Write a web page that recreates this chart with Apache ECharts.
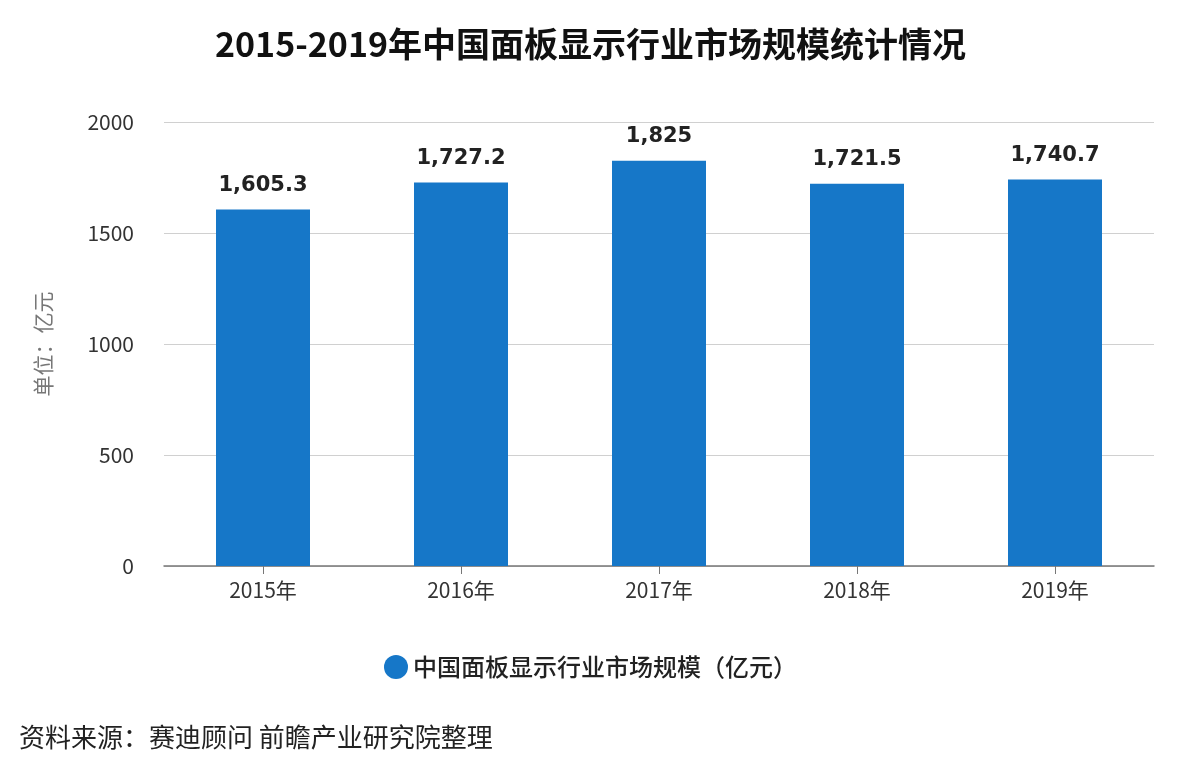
<!DOCTYPE html>
<html><head><meta charset="utf-8">
<script src="https://cdn.jsdelivr.net/npm/echarts@6/dist/echarts.min.js"></script>
<style>html,body{margin:0;padding:0;background:#fff;}#c{width:1181px;height:779px;}</style>
</head><body><div id="c"></div>
<script>
const categories = ['2015年','2016年','2017年','2018年','2019年'];
const marketSize = [1605.3, 1727.2, 1825, 1721.5, 1740.7];
const seriesName = '中国面板显示行业市场规模（亿元）';
const titleText = '2015-2019年中国面板显示行业市场规模统计情况';
const sourceText = '资料来源：赛迪顾问 前瞻产业研究院整理';
const yTicks = [0, 500, 1000, 1500, 2000];

const font = '"Noto Sans CJK SC", "Noto Sans", sans-serif';
const chart = echarts.init(document.getElementById('c'));
chart.setOption({
  backgroundColor: '#fff',
  textStyle: {fontFamily: font},
  title: [{
    text: titleText, left: 'center', top: 22,
    textStyle: {fontSize: 34, fontWeight: 'bold', color: '#111', fontFamily: font}
  }, {
    text: sourceText, left: 14, top: 719,
    textStyle: {fontSize: 26, fontWeight: 'normal', color: '#222', fontFamily: font}
  }],
  legend: {
    data: [seriesName], left: 'center', top: 650, itemWidth: 24, itemHeight: 24, icon: 'circle', itemGap: 10,
    textStyle: {fontSize: 24, color: '#222', fontFamily: font, fontWeight: 500}
  },
  grid: {left: 164, right: 27, top: 122, bottom: 213, containLabel: false},
  xAxis: {
    type: 'category', data: categories,
    axisLine: {lineStyle: {color: '#777', width: 1.5}},
    axisTick: {show: true, alignWithLabel: true, length: 8, lineStyle: {color: '#777'}},
    axisLabel: {fontSize: 21, color: '#333', margin: 14, fontFamily: font}
  },
  yAxis: {
    type: 'value', min: yTicks[0], max: yTicks[yTicks.length-1], interval: 500,
    name: '单位：亿元', nameLocation: 'middle', nameGap: 110, nameRotate: 90,
    nameTextStyle: {fontSize: 21, color: '#777', fontFamily: font},
    axisLine: {show: false}, axisTick: {show: false},
    axisLabel: {fontSize: 21, color: '#333', margin: 30, fontFamily: font, formatter: v => String(v)},
    splitLine: {lineStyle: {color: '#d0d0d0', width: 1.2}}
  },
  series: [{
    name: seriesName, type: 'bar', data: marketSize, barWidth: 94,
    itemStyle: {color: '#1677c8'},
    label: {
      show: true, position: 'top', distance: 14, fontSize: 21, fontWeight: 'bold', color: '#222',
      fontFamily: '"DejaVu Sans", sans-serif',
      formatter: p => p.value.toLocaleString('en-US')
    }
  }]
});
</script></body></html>
